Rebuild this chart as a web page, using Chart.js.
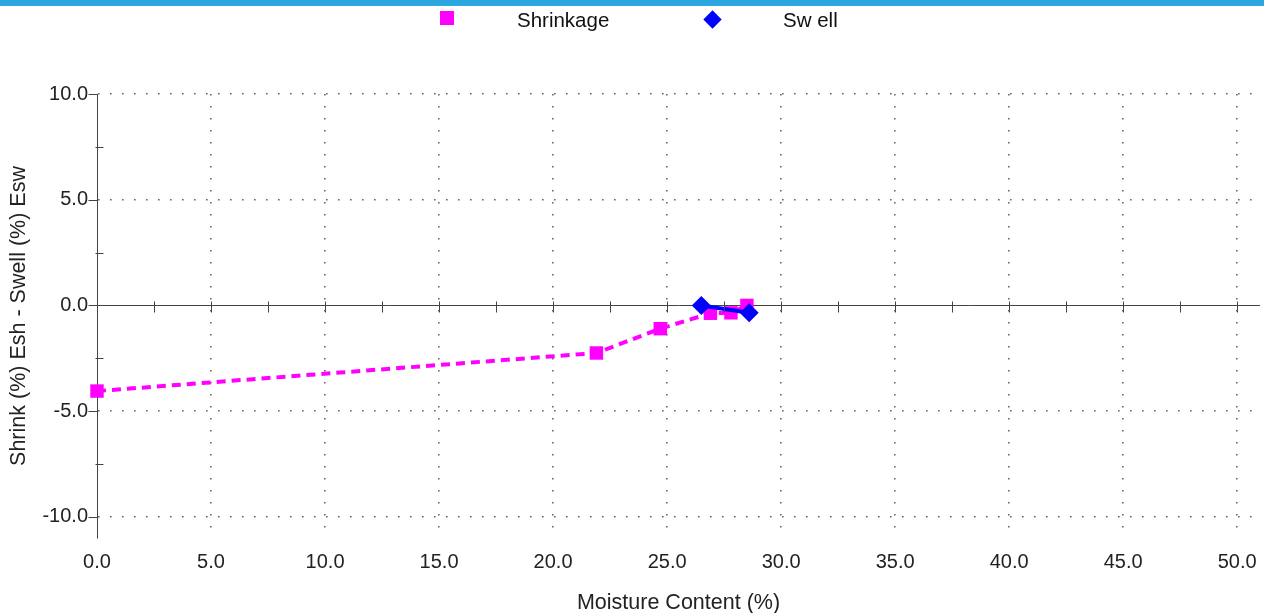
<!DOCTYPE html>
<html>
<head>
<meta charset="utf-8">
<script src="https://cdn.jsdelivr.net/npm/chart.js@4"></script>
<style>
  body { margin: 0; background: #fff; font-family: "Liberation Sans", Arial, sans-serif; }
  .wrap { position: relative; width: 1264px; height: 613px; overflow: hidden; }
  .topbar { position: absolute; left: 0; top: 0; width: 1264px; height: 6px; background: #2ba6de; }
  canvas { position: absolute; left: 0; top: 0; }
  .legend { position: absolute; top: 8px; font-size: 20.5px; color: #111; line-height: 24px; }
  .mark { position: absolute; }
</style>
</head>
<body>
<div class="wrap">
  <div class="topbar"></div>
  <canvas id="chart" width="1264" height="613"></canvas>
  <div class="mark" style="left:440px;top:11px;width:14px;height:14px;background:#ff00ff"></div>
  <div class="legend" style="left:517px">Shrinkage</div>
  <div class="mark" style="left:706px;top:13px;width:13px;height:13px;background:#0000ff;transform:rotate(45deg)"></div>
  <div class="legend" style="left:783px">Sw ell</div>
</div>
<script>
// values
const shrinkMoisture = [0, 21.9, 24.7, 26.9, 27.8, 28.5];
const shrinkValues = [-4.05, -2.25, -1.1, -0.37, -0.35, 0.0];
const swellMoisture = [26.5, 28.6];
const swellValues = [0.0, -0.35];
const xTickValues = [0, 5, 10, 15, 20, 25, 30, 35, 40, 45, 50];
const yTickValues = [-10, -5, 0, 5, 10];

const toPoints = (xs, ys) => xs.map((x, i) => ({ x: x, y: ys[i] }));

// zero line along x with small ticks every 2.5 on both axes
const axisLines = {
    id: 'axisLines',
    afterDraw(chart) {
        const ctx = chart.ctx;
        const xs = chart.scales.x, ys = chart.scales.y;
        const y0 = Math.round(ys.getPixelForValue(0)) + 0.5;
        const x0 = Math.round(xs.getPixelForValue(0)) + 0.5;
        ctx.save();
        ctx.strokeStyle = '#444';
        ctx.lineWidth = 1;
        ctx.beginPath();
        for (let v = 2.5; v <= 50; v += 2.5) {
            const px = Math.round(xs.getPixelForValue(v)) + 0.5;
            ctx.moveTo(px, y0 - 4);
            ctx.lineTo(px, y0 + 7);
        }
        for (let v = -10; v <= 10; v += 2.5) {
            const py = Math.round(ys.getPixelForValue(v)) + 0.5;
            if (v % 5 === 0) {
                ctx.moveTo(x0 - 9, py);
                ctx.lineTo(x0, py);
            } else {
                ctx.moveTo(x0 - 2, py);
                ctx.lineTo(x0 + 6, py);
            }
        }
        ctx.stroke();
        ctx.restore();
    },
    beforeDatasetsDraw(chart) {
        const ctx = chart.ctx;
        const xs = chart.scales.x, ys = chart.scales.y;
        const y0 = Math.round(ys.getPixelForValue(0)) + 0.5;
        ctx.save();
        ctx.strokeStyle = '#444';
        ctx.lineWidth = 1;
        ctx.beginPath();
        ctx.moveTo(xs.getPixelForValue(0), y0);
        ctx.lineTo(chart.chartArea.right, y0);
        ctx.stroke();
        ctx.restore();
    }
};

const dotted = (ctx) => (ctx.tick && ctx.tick.value === 0) ? 'rgba(0,0,0,0)' : '#666';

new Chart(document.getElementById('chart'), {
    type: 'scatter',
    data: {
        datasets: [
            {
                label: 'Shrinkage',
                data: toPoints(shrinkMoisture, shrinkValues),
                showLine: true,
                clip: false,
                borderColor: '#ff00ff',
                backgroundColor: '#ff00ff',
                borderWidth: 4,
                borderDash: [9, 6],
                pointStyle: 'rect',
                pointRadius: 9.5,
                pointHoverRadius: 9.5,
                pointBorderWidth: 0,
                order: 1
            },
            {
                label: 'Swell',
                data: toPoints(swellMoisture, swellValues),
                showLine: true,
                clip: false,
                borderColor: '#0000ff',
                backgroundColor: '#0000ff',
                borderWidth: 4,
                pointStyle: 'rectRot',
                pointRadius: 9.5,
                pointHoverRadius: 9.5,
                pointBorderWidth: 0,
                order: 0
            }
        ]
    },
    options: {
        responsive: false,
        animation: false,
        layout: { autoPadding: false, padding: { top: 94, right: 4, left: 0, bottom: 0 } },
        plugins: { legend: { display: false }, tooltip: { enabled: false } },
        scales: {
            x: {
                type: 'linear',
                min: 0,
                max: 51,
                afterBuildTicks: (s) => { s.ticks = xTickValues.map(v => ({ value: v })); },
                afterFit: (s) => { s.height = 75; s.paddingRight = 0; s.paddingLeft = 0; },
                ticks: {
                    callback: (v) => Number(v).toFixed(1),
                    color: '#222',
                    font: { family: 'Liberation Sans', size: 20 },
                    padding: 12,
                    maxRotation: 0,
                    autoSkip: false
                },
                grid: {
                    color: dotted,
                    lineWidth: 1.6,
                    drawTicks: false
                },
                border: { display: false, dash: [1.6, 10.4] },
                title: {
                    display: true,
                    text: 'Moisture Content (%)',
                    color: '#222',
                    font: { family: 'Liberation Sans', size: 21.5 },
                    padding: { top: 0, bottom: -3 }
                }
            },
            y: {
                min: -11,
                max: 10,
                afterBuildTicks: (s) => { s.ticks = yTickValues.map(v => ({ value: v })); },
                afterFit: (s) => { s.width = 97; },
                ticks: {
                    callback: (v) => Number(v).toFixed(1),
                    color: '#222',
                    font: { family: 'Liberation Sans', size: 20 },
                    padding: 9
                },
                grid: {
                    color: dotted,
                    lineWidth: 1.6,
                    drawTicks: false
                },
                border: { display: true, color: '#444', width: 1, dash: [1.6, 10.4] },
                title: {
                    display: true,
                    text: 'Shrink (%) Esh - Swell (%) Esw',
                    color: '#222',
                    font: { family: 'Liberation Sans', size: 21.5 },
                    padding: { top: 6, bottom: 0 }
                }
            }
        }
    },
    plugins: [axisLines]
});
</script>
</body>
</html>
